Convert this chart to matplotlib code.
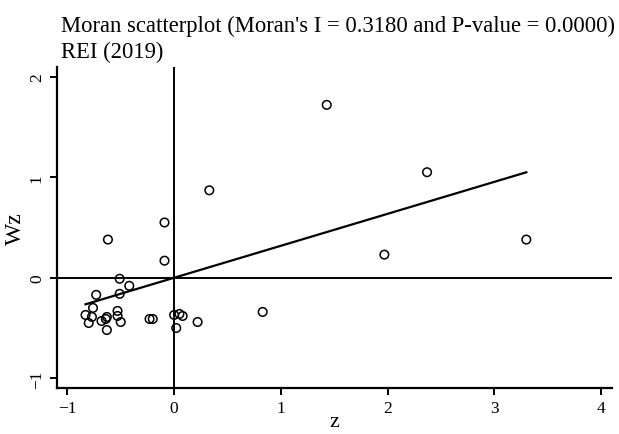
import matplotlib.pyplot as plt
import numpy as np

# Giá trị
moran_i = 0.3180
p_value = 0.0000

z = [1.43, 2.37, 0.33, -0.09, -0.62, -0.09, 1.97, 3.30,
     -0.51, -0.42, -0.73, -0.51, -0.76, -0.83, -0.77, -0.80,
     -0.53, -0.53, -0.63, -0.64, -0.68, -0.50, -0.63,
     -0.23, -0.20, 0.00, 0.05, 0.08, 0.02, 0.22, 0.83]
wz = [1.72, 1.05, 0.87, 0.55, 0.38, 0.17, 0.23, 0.38,
      -0.01, -0.08, -0.17, -0.16, -0.30, -0.37, -0.39, -0.45,
      -0.33, -0.38, -0.39, -0.41, -0.43, -0.44, -0.52,
      -0.41, -0.41, -0.37, -0.36, -0.38, -0.50, -0.44, -0.34]

xticks = [-1, 0, 1, 2, 3, 4]
yticks = [-1, 0, 1, 2]

plt.rcParams['font.family'] = ['Liberation Serif', 'DejaVu Serif']

fig = plt.figure(figsize=(6.19, 4.35), dpi=100)
ax = fig.add_axes([0.0916, 0.105, 0.8966, 0.7394])

ax.scatter(z, wz, s=38, facecolors='none', edgecolors='black', linewidths=1.1, zorder=3)

# Đường hồi quy: độ dốc = Moran's I
zz = np.array([min(z), max(z)])
ax.plot(zz, moran_i * zz, color='black', linewidth=1.6)

ax.axhline(0, color='black', linewidth=1.4)
ax.axvline(0, color='black', linewidth=1.4)

ax.set_xlim(-1.1, 4.1)
ax.set_ylim(-1.1, 2.1)
ax.set_xticks(xticks)
ax.set_yticks(yticks)
ax.set_yticklabels([str(t).replace('-', '\u2212') for t in yticks], rotation=90, va='center')
ax.set_xticklabels([str(t).replace('-', '\u2212') for t in xticks])
ax.tick_params(direction='out', length=5, width=1.4, labelsize=12.5)

for side in ['top', 'right']:
    ax.spines[side].set_visible(False)
for side in ['left', 'bottom']:
    ax.spines[side].set_linewidth(1.6)

ax.set_xlabel('z', fontsize=16, labelpad=-3)
ax.set_ylabel('Wz', fontsize=17, labelpad=2)

fig.text(0.099, 0.927, "Moran scatterplot (Moran's I = %.4f and P-value = %.4f)" % (moran_i, p_value),
         fontsize=16.3, ha='left', va='baseline')
fig.text(0.099, 0.866, 'REI (2019)', fontsize=16.3, ha='left', va='baseline')

plt.savefig('out.png', dpi=100)
